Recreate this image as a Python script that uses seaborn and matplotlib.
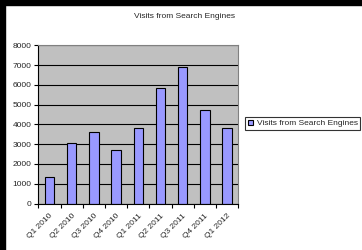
import matplotlib
matplotlib.use("Agg")
import matplotlib.pyplot as plt
import seaborn as sns
from matplotlib.patches import Rectangle

quarters = ["Q1 2010", "Q2 2010", "Q3 2010", "Q4 2010", "Q1 2011",
            "Q2 2011", "Q3 2011", "Q4 2011", "Q1 2012"]
visits = [1350, 3070, 3630, 2730, 3800, 5830, 6900, 4740, 3820]
series_name = "Visits from Search Engines"

sns.set_theme(style="white")
plt.rcParams['font.family'] = ['Liberation Sans', 'DejaVu Sans']

fig = plt.figure(figsize=(3.62, 2.5), dpi=100)
ax = fig.add_axes([0.106, 0.186, 0.552, 0.632])

sns.barplot(x=quarters, y=visits, color='#9999FF', edgecolor='black',
            linewidth=0.8, width=0.42, saturation=1, label=series_name, ax=ax)

ax.set_facecolor('#C0C0C0')
ax.set_xlim(-0.5, len(quarters) - 0.5)
ax.set_ylim(0, 8000)
ax.set_yticks(range(0, 8001, 1000))
ax.yaxis.grid(True, color='black', linewidth=0.8)
ax.set_axisbelow(True)

ax.set_xticks(range(len(quarters)))
ax.set_xticklabels(quarters, rotation=45, ha='right', rotation_mode='anchor')
ax.set_xticks([i - 0.5 for i in range(len(quarters) + 1)], minor=True)
ax.tick_params(axis='x', which='major', length=0, pad=6.5, labelsize=6)
ax.tick_params(axis='x', which='minor', length=3, width=0.8, color='black',
               direction='out', bottom=True)
ax.tick_params(axis='y', length=3, width=0.8, color='black', direction='out',
               left=True, labelsize=6, pad=2)

for side in ['top', 'right']:
    ax.spines[side].set_color('#808080')
    ax.spines[side].set_linewidth(0.8)
for side in ['left', 'bottom']:
    ax.spines[side].set_color('black')
    ax.spines[side].set_linewidth(0.8)
ax.set_xlabel('')
ax.set_ylabel('')

fig.suptitle('Visits from Search Engines', x=0.51, y=0.95, fontsize=6)

leg = ax.legend(loc='center', bbox_to_anchor=(0.836, 0.506),
                bbox_transform=fig.transFigure, fontsize=6, frameon=True,
                fancybox=False, edgecolor='black', borderpad=0.3,
                handlelength=0.7, handleheight=0.7, handletextpad=0.4,
                borderaxespad=0)
leg.get_frame().set_linewidth(0.8)

# black frame edges on the left and top, as in the reference
fig.patches.append(Rectangle((0, 0), 5 / 362, 1, transform=fig.transFigure,
                             color='black', zorder=10))
fig.patches.append(Rectangle((0, 1 - 5 / 250), 1, 5 / 250,
                             transform=fig.transFigure, color='black', zorder=10))

fig.savefig('out.png', dpi=100)
